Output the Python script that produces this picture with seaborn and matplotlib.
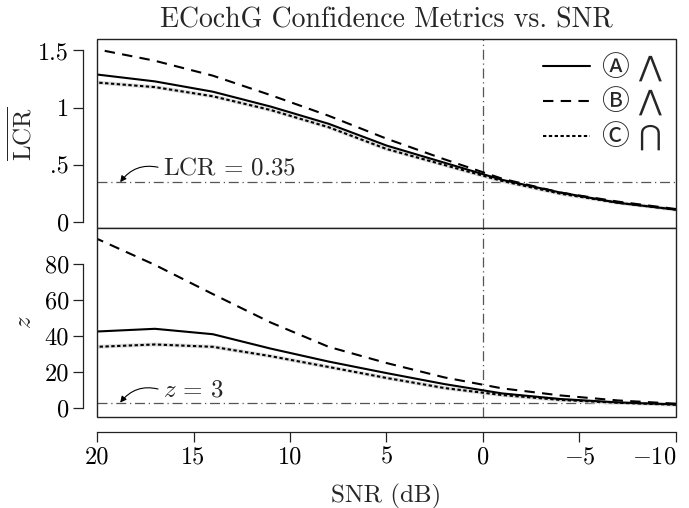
#!/usr/bin/env python

"""
    ECochG confidence metrics (mean LCR and z) vs. SNR
"""

import seaborn as sns
import pandas as pd
import matplotlib.pyplot as plt
from matplotlib.patches import Rectangle

# SNR grid (dB)
snr = [20, 17, 14, 11, 8, 5, 2, -1, -4, -7, -10]

# mean LCR per detector
lcr_a = [1.29, 1.23, 1.14, 1.01, 0.86, 0.67, 0.52, 0.37, 0.26, 0.17, 0.11]
lcr_b = [1.51, 1.41, 1.28, 1.11, 0.93, 0.73, 0.55, 0.38, 0.26, 0.18, 0.115]
lcr_c = [1.22, 1.18, 1.10, 0.98, 0.83, 0.64, 0.50, 0.36, 0.25, 0.17, 0.11]

# z score per detector
z_a = [42.5, 44.0, 41.0, 33.0, 25.8, 19.4, 13.3, 8.1, 5.0, 3.1, 2.0]
z_b = [94.0, 79.5, 63.3, 47.5, 34.0, 25.0, 17.0, 10.9, 7.0, 4.2, 2.4]
z_c = [34.0, 35.3, 34.0, 28.8, 22.8, 16.7, 11.1, 7.2, 4.5, 2.9, 1.8]

labels = ['Ⓐ ⋀', 'Ⓑ ⋀', 'Ⓒ ⋂']
lcr_thresh = 0.35
z_thresh = 3

xticks = [20, 15, 10, 5, 0, -5, -10]
xticklabels = ['20', '15', '10', '5', '0', '$-5$', '$-10$']

sns.set_theme(style='ticks')
plt.rcParams['font.family'] = ['cmr10', 'DejaVu Sans', 'Noto Sans CJK JP']
plt.rcParams['mathtext.fontset'] = 'cm'
plt.rcParams['axes.unicode_minus'] = True

FS = 18
TICK_FS = 17.5
ink = '#222222'
ref = '#555555'

df_lcr = pd.DataFrame({'snr': snr, 'A': lcr_a, 'B': lcr_b, 'C': lcr_c})
df_z = pd.DataFrame({'snr': snr, 'A': z_a, 'B': z_b, 'C': z_c})

fig = plt.figure(figsize=(6.89, 5.08), dpi=100)
ax1 = fig.add_axes([0.1408, 0.5512, 0.8403, 0.3720])
ax2 = fig.add_axes([0.1408, 0.1791, 0.8403, 0.3721])

styles = {'A': dict(linestyle='-'),
          'B': dict(linestyle=(0, (5, 3.5))),
          'C': dict(linestyle=(0, (1.6, 1.2)))}

for ax, df in [(ax1, df_lcr), (ax2, df_z)]:
    # light halo under C
    sns.lineplot(data=df, x='snr', y='C', ax=ax, color='#dedede', lw=2.8)
    for key, lab in zip(['A', 'B', 'C'], labels):
        sns.lineplot(data=df, x='snr', y=key, ax=ax, color='black',
                     lw=1.5, label=lab if ax is ax1 else None, **styles[key])
    ax.axvline(0, color=ref, lw=0.9, linestyle=(0, (8, 3, 1, 3)), zorder=1)
    ax.set_xlim(20, -10)
    ax.set_xlabel('')
    for s in ['top', 'right', 'bottom']:
        ax.spines[s].set_visible(False)
    ax.spines['left'].set_position(('outward', 10))
    ax.spines['left'].set_color(ink)
    ax.spines['left'].set_linewidth(0.9)
    ax.add_patch(Rectangle((0, 0), 1, 1, transform=ax.transAxes, fill=False,
                           edgecolor=ink, lw=1.0, clip_on=False, zorder=5))
    ax.tick_params(axis='both', direction='out', length=7, width=0.9,
                   color=ink, labelsize=TICK_FS, labelcolor='black', pad=3)

# top panel: LCR
ax1.axhline(lcr_thresh, color=ref, lw=0.9, linestyle=(0, (8, 3, 1, 3)), zorder=1)
ax1.set_ylim(-0.05, 1.6)
ax1.set_yticks([0, 0.5, 1, 1.5])
ax1.set_yticklabels(['0', '.5', '1', '1.5'])
ax1.spines['left'].set_bounds(0, 1.5)
ax1.set_xticks([])
ax1.set_ylabel(r'$\overline{\mathrm{LCR}}$', fontsize=FS)
ax1.yaxis.set_label_coords(-0.105, 0.5)
ax1.set_title('ECochG Confidence Metrics vs. SNR', fontsize=20, pad=8)
ax1.annotate(r'$\mathrm{LCR}\,=\,0.35$', xy=(18.8, lcr_thresh), xytext=(16.6, 0.47),
             fontsize=FS, ha='left', va='center',
             arrowprops=dict(arrowstyle='-|>', connectionstyle='arc3,rad=0.35',
                             color='black', lw=0.8, mutation_scale=9,
                             shrinkA=1, shrinkB=0, relpos=(0, 0.5)))
leg = ax1.legend(loc='upper right', frameon=False, fontsize=20,
                 handlelength=1.7, handletextpad=0.45, labelspacing=0.2,
                 borderaxespad=0.1)

# bottom panel: z
ax2.axhline(z_thresh, color=ref, lw=0.9, linestyle=(0, (8, 3, 1, 3)), zorder=1)
ax2.set_ylim(-5, 100)
ax2.set_yticks([0, 20, 40, 60, 80])
ax2.set_yticklabels(['0', '20', '40', '60', '80'])
ax2.spines['left'].set_bounds(0, 80)
ax2.spines['bottom'].set_visible(True)
ax2.spines['bottom'].set_position(('outward', 11))
ax2.spines['bottom'].set_bounds(-10, 20)
ax2.spines['bottom'].set_color(ink)
ax2.spines['bottom'].set_linewidth(0.9)
ax2.set_xticks(xticks)
ax2.set_xticklabels(xticklabels)
ax2.get_xticklabels()[-1].set_horizontalalignment('right')
ax2.set_ylabel('$z$', fontsize=FS)
ax2.yaxis.set_label_coords(-0.105, 0.5)
ax2.set_xlabel('SNR (dB)', fontsize=FS, labelpad=11)
ax2.annotate('$z\\,=\\,3$', xy=(18.8, z_thresh), xytext=(16.6, 9.8),
             fontsize=FS, ha='left', va='center',
             arrowprops=dict(arrowstyle='-|>', connectionstyle='arc3,rad=0.35',
                             color='black', lw=0.8, mutation_scale=9,
                             shrinkA=1, shrinkB=0, relpos=(0, 0.5)))

plt.savefig('out.png', dpi=100)
